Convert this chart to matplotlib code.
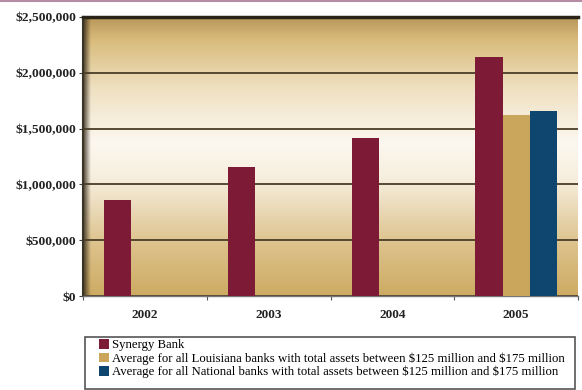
import numpy as np
import matplotlib
matplotlib.use("Agg")
import matplotlib.pyplot as plt
from matplotlib.colors import LinearSegmentedColormap
from matplotlib.lines import Line2D
from matplotlib.patches import Rectangle
from matplotlib.ticker import FuncFormatter

years = ["2002", "2003", "2004", "2005"]
synergy = [860000, 1155000, 1415000, 2145000]
louisiana = [np.nan, np.nan, np.nan, 1625000]
national = [np.nan, np.nan, np.nan, 1660000]
labels = ["Synergy Bank",
          "Average for all Louisiana banks with total assets between \\$125 million and \\$175 million",
          "Average for all National banks with total assets between \\$125 million and \\$175 million"]
colors = ["#7d1a35", "#c9a65c", "#0e4670"]

plt.rcParams['font.family'] = ['Liberation Serif', 'DejaVu Serif']

fig = plt.figure(figsize=(5.82, 3.9), dpi=100)
ax = fig.add_axes([83/582, 1-296/390, 495/582, 279/390])

# wall gradient
bg = LinearSegmentedColormap.from_list("wall", [
    (0.0, "#cdab62"), (0.18, "#dcc18a"), (0.42, "#f6eedd"), (0.55, "#fcf8f0"),
    (0.75, "#eedfbf"), (0.92, "#d9bc7c"), (1.0, "#b8965a")])
grad = np.linspace(0, 1, 256).reshape(-1, 1)
ax.imshow(grad, cmap=bg, aspect="auto", extent=[-0.5, 3.5, 0, 2500000],
          origin="lower", zorder=0)
# left wall shadow
shade = LinearSegmentedColormap.from_list("sh", [(0, (0.2, 0.16, 0.1, 0.9)), (1, (0.2, 0.16, 0.1, 0.0))])
ax.imshow(np.linspace(0, 1, 64).reshape(1, -1), cmap=shade, aspect="auto",
          extent=[-0.5, -0.44, 0, 2500000], zorder=0.5)

x = np.arange(len(years))
w = 0.22
for vals, off, c, lab in zip([synergy, louisiana, national], [-w, 0, w], colors, labels):
    ax.bar(x + off, vals, width=w, color=c, edgecolor="none", label=lab, zorder=3)

ax.set_xlim(-0.5, 3.5)
ax.set_ylim(0, 2500000)
ax.set_yticks(np.arange(0, 2500001, 500000))
ax.yaxis.set_major_formatter(FuncFormatter(lambda v, p: "${:,.0f}".format(v)))
ax.grid(axis="y", color="#4a3d28", linewidth=1.3, zorder=1)
ax.set_axisbelow(True)

ax.set_xticks(np.arange(-0.5, 4, 1))
ax.set_xticklabels([])
ax.set_xticks(x, minor=True)
ax.set_xticklabels(years, minor=True, fontsize=9.5, fontweight="bold", color="#222222")
ax.tick_params(axis="x", which="minor", length=0, pad=9)
ax.tick_params(axis="x", which="major", length=3, color="#555555", direction="out")
ax.tick_params(axis="y", length=3, color="#444444", labelsize=9.7, pad=2)
for t in ax.get_yticklabels():
    t.set_fontweight("bold")
    t.set_color("#222222")

ax.spines["right"].set_visible(False)
ax.spines["top"].set_color("#2a2418")
ax.spines["top"].set_linewidth(2.5)
ax.spines["left"].set_color("#3a3426")
ax.spines["left"].set_linewidth(1.5)
ax.spines["bottom"].set_color("#777777")
ax.spines["bottom"].set_linewidth(1.0)

# legend box drawn separately so it can be wider than the text
fig.add_artist(Rectangle((85/582, 1-389/390), 490/582, 52/390, transform=fig.transFigure,
                         facecolor="white", edgecolor="#555555", linewidth=1.2, zorder=-1))
leg = ax.legend(loc="upper left", bbox_to_anchor=(99/582, 1-339/390),
                bbox_transform=fig.transFigure,
                fontsize=9.2, frameon=False, borderaxespad=0, borderpad=0,
                handlelength=0.8, handleheight=0.8, handletextpad=0.2,
                labelspacing=0.08)

fig.add_artist(Line2D([0, 1], [0.998, 0.998], transform=fig.transFigure,
                      color="#b48ca4", linewidth=1.5))

fig.savefig("out.png", dpi=100)
